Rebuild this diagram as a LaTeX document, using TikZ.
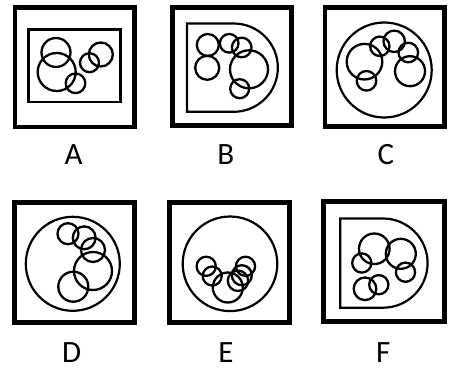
\documentclass[tikz,border=0pt]{standalone}
\usepackage{fontspec}
\setmainfont{Carlito}
\begin{document}
\begin{tikzpicture}[x=1pt,y=-1pt,
  frame/.style={draw=black,line width=4.7pt},
  inner/.style={draw=black,line width=2.2pt},
  ring/.style={draw=black,line width=2.3pt},
  lab/.style={font=\fontsize{31}{31}\selectfont,inner sep=0pt,anchor=base}]
\useasboundingbox (0,0) rectangle (452,372);
% ---------- A ----------
\draw[frame] (15,7.5) rectangle (134.3,127);
\draw[inner] (28.5,29.5) rectangle (120.5,102);
\draw[ring] (56,52.5) circle (14.5);
\draw[ring] (56.7,72) circle (19);
\draw[ring] (75.5,83.3) circle (9.8);
\draw[ring] (89.5,62.7) circle (9.5);
\draw[ring] (100.8,54.5) circle (12);
\node[lab] (la) at (73.7,164.3) {A};
% ---------- B ----------
\draw[frame] (172.5,7.5) rectangle (291.7,125.8);
\draw[inner] (233.7,23.5) -- (187,23.5) -- (187,111.8) -- (233.7,111.8) arc[start angle=90,end angle=-90,radius=44.15];
\draw[ring] (207.8,45) circle (11);
\draw[ring] (207.2,67.8) circle (12);
\draw[ring] (229.2,43.3) circle (9.3);
\draw[ring] (241.7,47.5) circle (9.8);
\draw[ring] (249,69.3) circle (19);
\draw[ring] (239.7,88.7) circle (9.5);
\node[lab] (lb) at (225.7,164.3) {B};
% ---------- C ----------
\draw[frame] (325,7.5) rectangle (444.2,126.7);
\draw[inner] (384.2,70) circle (47.5);
\draw[ring] (364.5,61.7) circle (17.8);
\draw[ring] (366.5,80.8) circle (9.8);
\draw[ring] (379.8,46.3) circle (9.7);
\draw[ring] (394.2,41.3) circle (10.7);
\draw[ring] (408.3,52.5) circle (9.8);
\draw[ring] (410,71.2) circle (15);
\node[lab] (lc) at (386,164.3) {C};
% ---------- D ----------
\draw[frame] (14.8,202.5) rectangle (134.3,322.5);
\draw[inner] (72.8,263.8) circle (47);
\draw[ring] (68,233.7) circle (10.5);
\draw[ring] (84.2,237.8) circle (11.4);
\draw[ring] (93,250) circle (12);
\draw[ring] (93,271) circle (19);
\draw[ring] (73.3,286.7) circle (15);
\node[lab] (ld) at (71.7,362.3) {D};
% ---------- E ----------
\draw[frame] (169.7,202.5) rectangle (289.7,322.5);
\draw[inner] (230,263.8) circle (47.3);
\draw[ring] (206.2,266.3) circle (9.6);
\draw[ring] (212.2,276) circle (9.5);
\draw[ring] (227.8,287.5) circle (15);
\draw[ring] (238,280.8) circle (10.2);
\draw[ring] (241.8,275.2) circle (10);
\draw[ring] (245.5,266.3) circle (9.6);
\node[lab] (le) at (226,362.3) {E};
% ---------- F ----------
\draw[frame] (323.3,201.5) rectangle (444.2,321.5);
\draw[inner] (383,218.5) -- (340.3,218.5) -- (340.3,307.7) -- (383,307.7) arc[start angle=90,end angle=-90,radius=44.6];
\draw[ring] (374.3,248.8) circle (15.3);
\draw[ring] (400.8,253.8) circle (15);
\draw[ring] (361.8,263) circle (9.6);
\draw[ring] (405.5,272.2) circle (9.6);
\draw[ring] (365,288.8) circle (11.3);
\draw[ring] (378.8,284.7) circle (9.6);
\node[lab] (lf) at (383.3,362.3) {F};
\end{tikzpicture}
\end{document}
